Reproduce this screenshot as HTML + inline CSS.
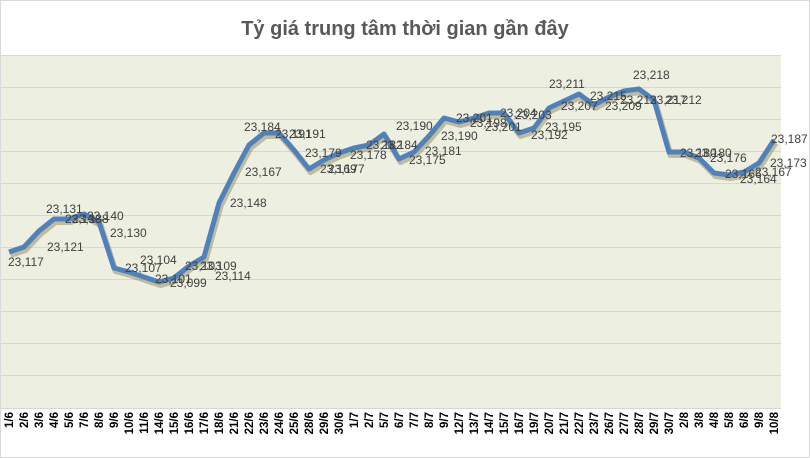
<!DOCTYPE html>
<html><head><meta charset="utf-8"><style>
body{margin:0;background:#fff}
svg{display:block}
</style></head><body>
<svg width="810" height="458" xmlns="http://www.w3.org/2000/svg" font-family="Liberation Sans, sans-serif">
<rect x="0" y="0" width="810" height="458" fill="#fff"/>
<rect x="0.5" y="0.5" width="809" height="457" fill="none" stroke="#d9d9d9"/>
<text x="405" y="35" text-anchor="middle" font-size="20" font-weight="bold" fill="#595959">Tỷ giá trung tâm thời gian gần đây</text>
<rect x="1" y="55" width="780" height="353" fill="#edf0e1"/>
<g stroke="#d6d6d6" stroke-width="1">
<line x1="1" x2="781" y1="55.5" y2="55.5"/><line x1="1" x2="781" y1="87.5" y2="87.5"/><line x1="1" x2="781" y1="119.5" y2="119.5"/><line x1="1" x2="781" y1="151.5" y2="151.5"/><line x1="1" x2="781" y1="183.5" y2="183.5"/><line x1="1" x2="781" y1="215.5" y2="215.5"/><line x1="1" x2="781" y1="247.5" y2="247.5"/><line x1="1" x2="781" y1="279.5" y2="279.5"/><line x1="1" x2="781" y1="311.5" y2="311.5"/><line x1="1" x2="781" y1="343.5" y2="343.5"/><line x1="1" x2="781" y1="375.5" y2="375.5"/><line x1="1" x2="781" y1="408.5" y2="408.5"/>
</g>
<polyline fill="none" stroke="#9a9060" stroke-opacity="0.55" stroke-width="6" stroke-linejoin="round" transform="translate(1.5,3)" points="9,252 24,247 39,231 54,219 69,219 84,214 99,222 114,268 129,272 144,277 159,282 174,278 189,266 204,257 219,203 234,173 249,145 264,133 279,133 294,150 309,169 324,160 339,153 354,148 369,145 384,134 399,159 414,152 429,136 444,118 459,122 474,118 489,113 504,113 519,133 534,128 549,108 564,101 579,94 594,105 609,97 624,91 639,89 654,100 669,152 684,152 699,158 714,173 729,175 744,172 759,163 774,140"/>
<polyline fill="none" stroke="#4f81bd" stroke-width="5" stroke-linejoin="round" points="9,252 24,247 39,231 54,219 69,219 84,214 99,222 114,268 129,272 144,277 159,282 174,278 189,266 204,257 219,203 234,173 249,145 264,133 279,133 294,150 309,169 324,160 339,153 354,148 369,145 384,134 399,159 414,152 429,136 444,118 459,122 474,118 489,113 504,113 519,133 534,128 549,108 564,101 579,94 594,105 609,97 624,91 639,89 654,100 669,152 684,152 699,158 714,173 729,175 744,172 759,163 774,140"/>
<g font-size="12" fill="#404040">
<text x="8" y="266">23,117</text><text x="47" y="251">23,121</text><text x="46" y="213">23,131</text><text x="65" y="223">23,138</text><text x="72" y="223">23,138</text><text x="87" y="220">23,140</text><text x="110" y="237">23,130</text><text x="125" y="272">23,107</text><text x="140" y="264">23,104</text><text x="155" y="283">23,101</text><text x="170" y="287">23,099</text><text x="185" y="270">23,103</text><text x="200" y="270">23,109</text><text x="215" y="280">23,114</text><text x="230" y="207">23,148</text><text x="245" y="176">23,167</text><text x="244" y="131">23,184</text><text x="275" y="138">23,191</text><text x="289" y="138">23,191</text><text x="305" y="157">23,179</text><text x="320" y="173">23,169</text><text x="328" y="173">23,177</text><text x="350" y="159">23,178</text><text x="366" y="149">23,182</text><text x="381" y="149">23,184</text><text x="396" y="130">23,190</text><text x="409" y="164">23,175</text><text x="425" y="155">23,181</text><text x="441" y="140">23,190</text><text x="456" y="122">23,201</text><text x="470" y="127">23,198</text><text x="485" y="131">23,201</text><text x="500" y="117">23,204</text><text x="515" y="119">23,203</text><text x="531" y="139">23,192</text><text x="545" y="131">23,195</text><text x="549" y="88">23,211</text><text x="561" y="110">23,207</text><text x="590" y="100">23,215</text><text x="605" y="110">23,209</text><text x="620" y="104">23,213</text><text x="650" y="104">23,217</text><text x="665" y="104">23,212</text><text x="633" y="79">23,218</text><text x="680" y="157">23,180</text><text x="695" y="157">23,180</text><text x="710" y="162">23,176</text><text x="725" y="178">23,166</text><text x="740" y="183">23,164</text><text x="755" y="176">23,167</text><text x="770" y="167">23,173</text><text x="771" y="143">23,187</text>
</g>
<g font-size="11.5" font-weight="bold" fill="#000" text-anchor="end">
<text transform="translate(13,412) rotate(-90)">1/6</text><text transform="translate(28,412) rotate(-90)">2/6</text><text transform="translate(43,412) rotate(-90)">3/6</text><text transform="translate(58,412) rotate(-90)">4/6</text><text transform="translate(73,412) rotate(-90)">5/6</text><text transform="translate(88,412) rotate(-90)">7/6</text><text transform="translate(103,412) rotate(-90)">8/6</text><text transform="translate(118,412) rotate(-90)">9/6</text><text transform="translate(133,412) rotate(-90)">10/6</text><text transform="translate(148,412) rotate(-90)">11/6</text><text transform="translate(163,412) rotate(-90)">14/6</text><text transform="translate(178,412) rotate(-90)">15/6</text><text transform="translate(193,412) rotate(-90)">16/6</text><text transform="translate(208,412) rotate(-90)">17/6</text><text transform="translate(223,412) rotate(-90)">18/6</text><text transform="translate(238,412) rotate(-90)">21/6</text><text transform="translate(253,412) rotate(-90)">22/6</text><text transform="translate(268,412) rotate(-90)">23/6</text><text transform="translate(283,412) rotate(-90)">24/6</text><text transform="translate(298,412) rotate(-90)">25/6</text><text transform="translate(313,412) rotate(-90)">28/6</text><text transform="translate(328,412) rotate(-90)">29/6</text><text transform="translate(343,412) rotate(-90)">30/6</text><text transform="translate(358,412) rotate(-90)">1/7</text><text transform="translate(373,412) rotate(-90)">2/7</text><text transform="translate(388,412) rotate(-90)">5/7</text><text transform="translate(403,412) rotate(-90)">6/7</text><text transform="translate(418,412) rotate(-90)">7/7</text><text transform="translate(433,412) rotate(-90)">8/7</text><text transform="translate(448,412) rotate(-90)">9/7</text><text transform="translate(463,412) rotate(-90)">12/7</text><text transform="translate(478,412) rotate(-90)">13/7</text><text transform="translate(493,412) rotate(-90)">14/7</text><text transform="translate(508,412) rotate(-90)">15/7</text><text transform="translate(523,412) rotate(-90)">16/7</text><text transform="translate(538,412) rotate(-90)">19/7</text><text transform="translate(553,412) rotate(-90)">20/7</text><text transform="translate(568,412) rotate(-90)">21/7</text><text transform="translate(583,412) rotate(-90)">22/7</text><text transform="translate(598,412) rotate(-90)">23/7</text><text transform="translate(613,412) rotate(-90)">26/7</text><text transform="translate(628,412) rotate(-90)">27/7</text><text transform="translate(643,412) rotate(-90)">28/7</text><text transform="translate(658,412) rotate(-90)">29/7</text><text transform="translate(673,412) rotate(-90)">30/7</text><text transform="translate(688,412) rotate(-90)">2/8</text><text transform="translate(703,412) rotate(-90)">3/8</text><text transform="translate(718,412) rotate(-90)">4/8</text><text transform="translate(733,412) rotate(-90)">5/8</text><text transform="translate(748,412) rotate(-90)">6/8</text><text transform="translate(763,412) rotate(-90)">9/8</text><text transform="translate(778,412) rotate(-90)">10/8</text>
</g>
</svg>
</body></html>
